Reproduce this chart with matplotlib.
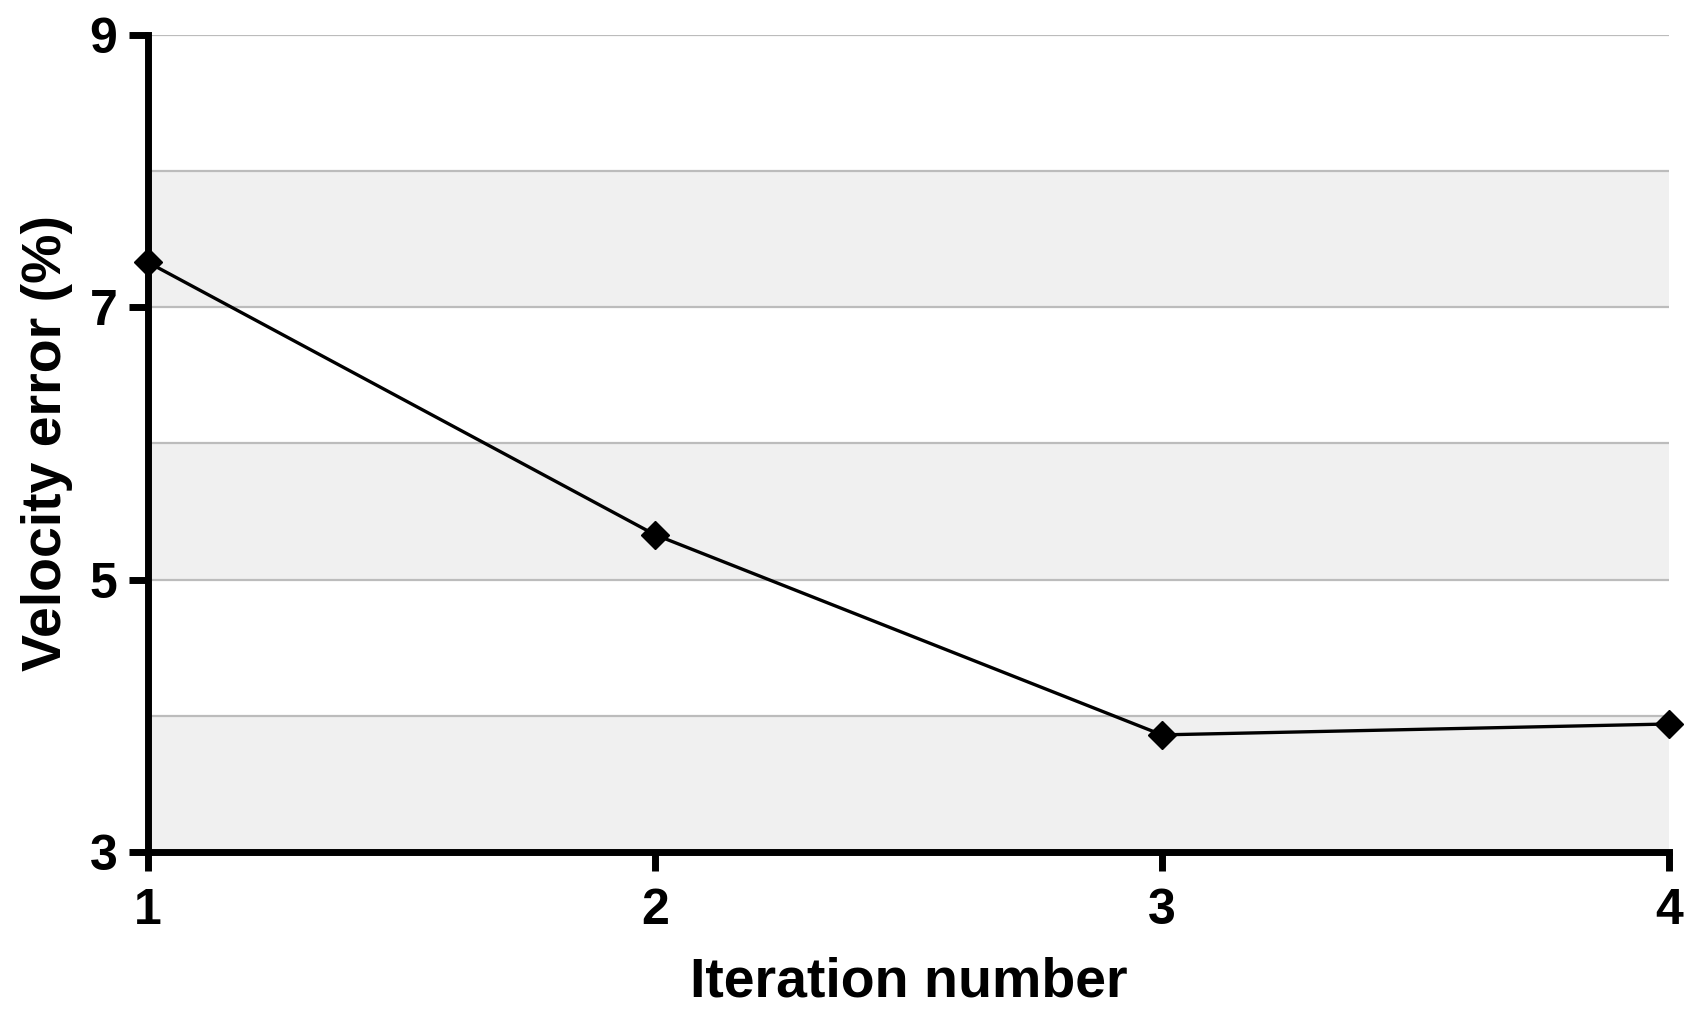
import numpy as np
import matplotlib
matplotlib.use("Agg")
import matplotlib.pyplot as plt

# values
iterations = [1, 2, 3, 4]
velocity_error = [7.33, 5.33, 3.86, 3.94]
y_ticks = [3, 5, 7, 9]
grid_levels = [4, 5, 6, 7, 8, 9]
shaded_bands = [(3, 4), (5, 6), (7, 8)]

plt.rcParams['font.family'] = ['Liberation Sans', 'DejaVu Sans']
plt.rcParams['font.weight'] = 'bold'

fig = plt.figure(figsize=(17.03, 10.19), dpi=100)
ax = fig.add_axes([0.0869, 0.1639, 0.8931, 0.8018])

for lo, hi in shaded_bands:
    ax.axhspan(lo, hi, color='#f0f0f0', lw=0, zorder=0)
for lvl in grid_levels:
    ax.axhline(lvl, color='#bcbcbc', lw=1.6, zorder=1)

ax.plot(iterations, velocity_error, color='black', lw=2.4, marker='D', ms=14,
        mfc='black', mec='black', zorder=5, clip_on=False)

ax.set_xlim(1, 4)
ax.set_ylim(3, 9)
ax.set_xticks(iterations)
ax.set_yticks(y_ticks)

for side in ['top', 'right']:
    ax.spines[side].set_visible(False)
for side in ['left', 'bottom']:
    ax.spines[side].set_linewidth(5)
    ax.spines[side].set_capstyle('projecting')

ax.tick_params(axis='both', direction='out', length=14, width=5, labelsize=36)
ax.tick_params(axis='y', pad=8)
ax.tick_params(axis='x', pad=12)
for lab in ax.get_xticklabels() + ax.get_yticklabels():
    lab.set_fontweight('bold')

ax.set_xlabel('Iteration number', fontsize=40, fontweight='bold', labelpad=16)
ax.set_ylabel('Velocity error (%)', fontsize=40, fontweight='bold', labelpad=12)

fig.savefig('out.png', dpi=100)
